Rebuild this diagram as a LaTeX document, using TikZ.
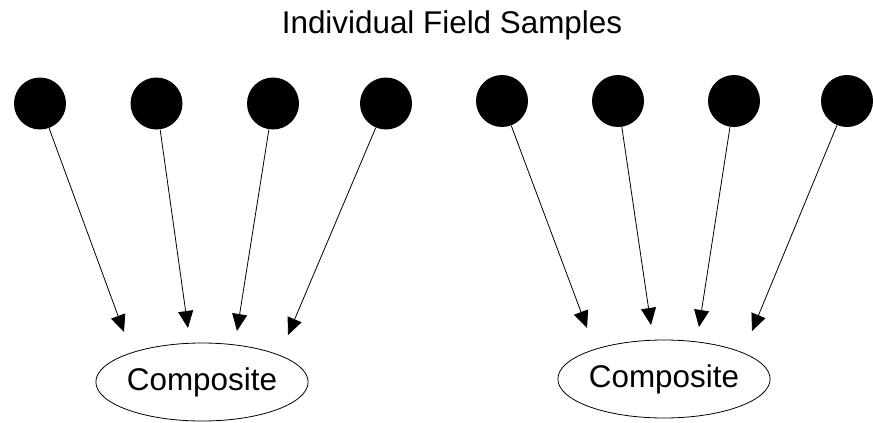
\documentclass[tikz,border=0pt]{standalone}
\usepackage{fontspec}
\setmainfont{Liberation Sans}
\usetikzlibrary{arrows.meta,shapes.geometric}
\tikzset{
	->, % every connector gets a head
	>={Triangle[length=8.5pt,width=7.5pt]},
	line width=0.8pt,
	sample/.style={circle, fill=black, inner sep=0pt, minimum size=26pt},
	composite/.style={ellipse, draw, inner sep=0pt, minimum width=105pt, minimum height=39pt},
}
\begin{document}
\begin{tikzpicture}[x=0.5pt, y=-0.5pt, font=\fontsize{15.7}{19}\selectfont]
	\useasboundingbox (0,0) rectangle (873,423);
	\node (title) at (452,25) {Individual Field Samples};

	% first batch of samples
	\node[sample] (s1) at (40,103.5) {};
	\node[sample] (s2) at (156.5,103.5) {};
	\node[sample] (s3) at (273,103.5) {};
	\node[sample] (s4) at (386,103.5) {};
	\node[composite] (c1) at (202,382) {Composite};

	% second batch of samples
	\node[sample] (s5) at (502,101) {};
	\node[sample] (s6) at (618,101) {};
	\node[sample] (s7) at (734,101) {};
	\node[sample] (s8) at (847,101) {};
	\node[composite] (c2) at (664,379) {Composite};

	% arrow heads stop short of the composites
	\coordinate (t1) at (124,332);
	\coordinate (t2) at (188,328);
	\coordinate (t3) at (237,331);
	\coordinate (t4) at (288,335);
	\coordinate (t5) at (587,328);
	\coordinate (t6) at (651,325);
	\coordinate (t7) at (699,327);
	\coordinate (t8) at (752,331);

	\foreach \i in {1,...,8}
		\draw (s\i) -- (t\i);
\end{tikzpicture}
\end{document}
